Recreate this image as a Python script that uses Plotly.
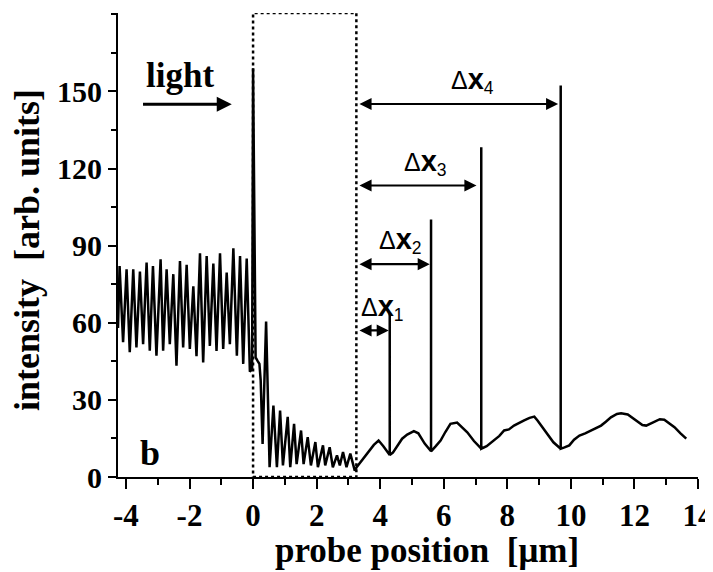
import plotly.graph_objects as go

# ---- data ----
probe_x = [-4.25, -4.20, -4.09, -3.98, -3.88, -3.77, -3.67, -3.56, -3.46, -3.35, -3.25, -3.15, -3.04,
           -2.91, -2.83, -2.72, -2.62, -2.51, -2.41, -2.30, -2.20, -2.09, -1.99, -1.88, -1.78, -1.67,
           -1.57, -1.46, -1.36, -1.25, -1.15, -1.04, -0.94, -0.83, -0.73, -0.62, -0.51, -0.41, -0.31,
           -0.20, -0.10, -0.03, 0.00, 0.08, 0.15, 0.20, 0.24, 0.30, 0.41, 0.52, 0.64, 0.75, 0.85, 0.94,
           1.09, 1.17, 1.29, 1.37, 1.51, 1.59, 1.72, 1.82, 1.96, 2.04, 2.20, 2.27, 2.41, 2.51, 2.64,
           2.73, 2.83, 2.94, 3.06, 3.20, 3.27, 3.40, 3.60, 3.80, 3.95, 4.10, 4.30, 4.30, 4.30, 4.40,
           4.55, 4.69, 4.85, 5.06, 5.20, 5.40, 5.60, 5.60, 5.60, 5.75, 5.90, 6.05, 6.21, 6.42, 6.60,
           6.74, 6.95, 7.18, 7.18, 7.18, 7.35, 7.58, 7.75, 7.90, 8.05, 8.21, 8.40, 8.53, 8.70, 8.85,
           8.95, 9.10, 9.26, 9.45, 9.68, 9.68, 9.68, 9.80, 9.95, 10.10, 10.27, 10.45, 10.63, 10.80,
           10.95, 11.10, 11.26, 11.45, 11.58, 11.79, 11.95, 12.10, 12.25, 12.37, 12.50, 12.68, 12.80,
           12.94, 13.10, 13.26, 13.45, 13.63]
intensity = [58, 82.1, 52.4, 80.8, 48.5, 80.8, 50.4, 79.9, 51.7, 83.4, 49.1, 82.1, 47.2,
             84.7, 49.1, 80.8, 51.7, 78.9, 43.3, 84.0, 50.4, 82.5, 49.8, 74.2, 47.0, 87.0,
             44.6, 86.0, 51.0, 83.0, 49.0, 87.0, 49.8, 79.5, 51.7, 89.0, 47.2, 86.0, 44.0,
             85.0, 41.0, 42.0, 159.0, 46.5, 45.0, 44.0, 37.5, 12.9, 60.5, 3.8, 27.8, 3.8, 25.8, 4.5,
             23.4, 3.8, 20.7, 5.0, 18.1, 5.0, 15.5, 4.5, 13.6, 3.8, 12.3, 4.5, 11.6, 3.8, 8.4,
             4.5, 9.7, 3.8, 9.1, 2.5, 4.0, 6.0, 9.5, 12.5, 14.2, 12.0, 8.6, 63.4, 8.6, 9.5,
             12.5, 14.9, 16.5, 17.8, 17.0, 13.0, 10.0, 100.2, 10.0, 12.0, 14.2, 17.5, 20.7, 21.2, 19.0,
             17.4, 14.0, 11.0, 128.3, 11.0, 12.0, 14.2, 16.0, 18.1, 18.5, 20.0, 21.0, 22.0, 23.0, 23.5,
             22.0, 19.5, 16.8, 13.5, 11.0, 152.3, 11.0, 11.5, 12.3, 14.5, 16.1, 17.0, 18.1, 19.0,
             20.0, 21.5, 23.2, 24.5, 24.8, 24.3, 22.8, 21.3, 20.2, 20.0, 20.8, 22.0, 22.5,
             22.3, 21.0, 19.4, 17.0, 14.9]

# distances Δx1..Δx4 : arrow start, arrow end, arrow height, label x
dx_subscripts = ["1", "2", "3", "4"]
dx_start = [3.30, 3.30, 3.30, 3.30]
dx_end = [4.27, 5.56, 7.03, 9.60]
dx_level = [57.0, 82.8, 113.4, 145.1]
dx_label_x = [4.07, 4.64, 5.43, 6.90]

box_x = [0.0, 3.25]
x_ticks = [-4, -2, 0, 2, 4, 6, 8, 10, 12, 14]
y_ticks = [0, 30, 60, 90, 120, 150]

SERIF = "Liberation Serif"
SANS = "Liberation Sans"

fig = go.Figure()
fig.add_trace(go.Scatter(x=probe_x, y=intensity, mode="lines",
                         line=dict(color="black", width=2.5), showlegend=False,
                         hoverinfo="skip"))

# dotted box
fig.add_shape(type="rect", xref="x", yref="y", x0=box_x[0], x1=box_x[1], y0=0, y1=180.5,
              line=dict(color="black", width=2.5, dash="dot"))

annotations = []
for sub, xs, xe, lv, lx in zip(dx_subscripts, dx_start, dx_end, dx_level, dx_label_x):
    annotations.append(dict(x=xe, y=lv, ax=xs, ay=lv, xref="x", yref="y", axref="x", ayref="y",
                            text="", showarrow=True, arrowhead=2, startarrowhead=2,
                            arrowside="end+start", arrowsize=1.1, startarrowsize=1.1,
                            arrowwidth=2.2, arrowcolor="black", standoff=0, startstandoff=0))
    label = "Δ<span style='font-size:29px'><b>x</b></span><sub>" + sub + "</sub>"
    annotations.append(dict(x=lx, y=lv + 1.5, xref="x", yref="y", text=label, showarrow=False,
                            yanchor="bottom", xanchor="center",
                            font=dict(family=SANS, size=25, color="black")))

# light arrow and label
annotations.append(dict(x=-0.67, y=145, ax=-3.51, ay=145, xref="x", yref="y", axref="x", ayref="y",
                        text="", showarrow=True, arrowhead=2, arrowsize=1.0, arrowwidth=3,
                        arrowcolor="black", standoff=0))
annotations.append(dict(x=-2.3, y=156, xref="x", yref="y", text="<b>light</b>", showarrow=False,
                        font=dict(family=SERIF, size=35, color="black")))
annotations.append(dict(x=-3.25, y=9.5, xref="x", yref="y", text="<b>b</b>", showarrow=False,
                        font=dict(family=SERIF, size=36, color="black")))

# axis titles (placed as paper annotations)
annotations.append(dict(x=-0.157, y=0.489, xref="paper", yref="paper", text="<b>intensity  [arb. units]</b>",
                        textangle=-90, showarrow=False, xanchor="center", yanchor="middle",
                        font=dict(family=SERIF, size=36, color="black")))
annotations.append(dict(x=0.533, y=-0.159, xref="paper", yref="paper", text="<b>probe position  [μm]</b>",
                        showarrow=False, xanchor="center", yanchor="middle",
                        font=dict(family=SERIF, size=35, color="black")))
fig.update_layout(annotations=annotations)

fig.update_xaxes(range=[-4.25, 14], tickvals=x_ticks, ticktext=[str(v) for v in x_ticks],
                 showline=True, linecolor="black", linewidth=2, mirror=False, automargin=False,
                 ticks="outside", ticklen=10, tickwidth=2, tickcolor="black", ticklabeloverflow="allow",
                 minor=dict(dtick=1, tick0=0, ticks="outside", ticklen=6, tickwidth=2, tickcolor="black"),
                 showgrid=False, zeroline=False,
                 tickfont=dict(family=SERIF, size=31, color="black", weight="bold"))
fig.update_yaxes(range=[0, 180.5], tickvals=y_ticks, ticktext=[str(v) for v in y_ticks],
                 showline=True, linecolor="black", linewidth=2, automargin=False,
                 ticks="outside", ticklen=8, tickwidth=2, tickcolor="black", ticklabeloverflow="allow",
                 minor=dict(dtick=15, tick0=0, ticks="outside", ticklen=5, tickwidth=2, tickcolor="black"),
                 showgrid=False, zeroline=False,
                 tickfont=dict(family=SERIF, size=30, color="black", weight="bold"))

# page body adds an 8 px offset; the figure is sized so the plot lands where the reference has it
fig.update_layout(width=705, height=564, margin=dict(l=110, r=15, t=5, b=95),
                  plot_bgcolor="white", paper_bgcolor="white", showlegend=False)

fig.write_html("out.html")
